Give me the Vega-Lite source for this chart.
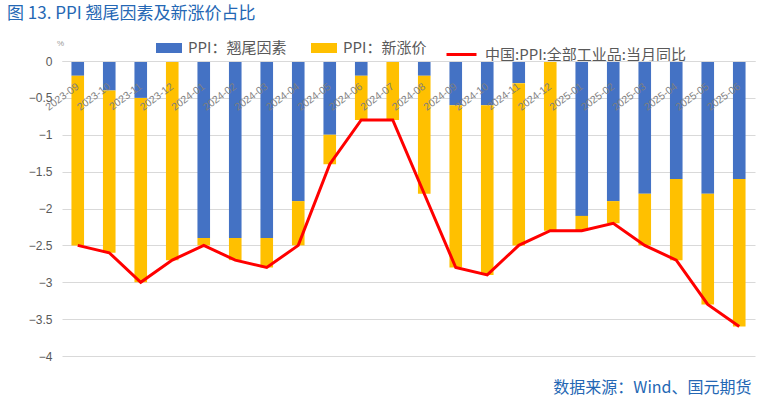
{
  "$schema": "https://vega.github.io/schema/vega-lite/v6.json",
  "width": 693,
  "height": 295,
  "autosize": {"type": "none"},
  "padding": {"left": 62, "top": 61, "right": 8, "bottom": 41},
  "background": "white",
  "config": {"view": {"stroke": null}},
  "title": {
    "text": "图 13. PPI 翘尾因素及新涨价占比",
    "anchor": "start",
    "frame": "group",
    "dx": -55,
    "dy": -11,
    "fontSize": 17,
    "font": "Noto Sans CJK SC",
    "fontWeight": "normal",
    "color": "#2467B4"
  },
  "datasets": {
    "bars": [
      {"month": "2023-09", "series": "PPI：翘尾因素", "value": -0.2},
      {"month": "2023-09", "series": "PPI：新涨价", "value": -2.3},
      {"month": "2023-10", "series": "PPI：翘尾因素", "value": -0.4},
      {"month": "2023-10", "series": "PPI：新涨价", "value": -2.2},
      {"month": "2023-11", "series": "PPI：翘尾因素", "value": -0.5},
      {"month": "2023-11", "series": "PPI：新涨价", "value": -2.5},
      {"month": "2023-12", "series": "PPI：翘尾因素", "value": 0},
      {"month": "2023-12", "series": "PPI：新涨价", "value": -2.7},
      {"month": "2024-01", "series": "PPI：翘尾因素", "value": -2.4},
      {"month": "2024-01", "series": "PPI：新涨价", "value": -0.1},
      {"month": "2024-02", "series": "PPI：翘尾因素", "value": -2.4},
      {"month": "2024-02", "series": "PPI：新涨价", "value": -0.3},
      {"month": "2024-03", "series": "PPI：翘尾因素", "value": -2.4},
      {"month": "2024-03", "series": "PPI：新涨价", "value": -0.4},
      {"month": "2024-04", "series": "PPI：翘尾因素", "value": -1.9},
      {"month": "2024-04", "series": "PPI：新涨价", "value": -0.6},
      {"month": "2024-05", "series": "PPI：翘尾因素", "value": -1.0},
      {"month": "2024-05", "series": "PPI：新涨价", "value": -0.4},
      {"month": "2024-06", "series": "PPI：翘尾因素", "value": -0.2},
      {"month": "2024-06", "series": "PPI：新涨价", "value": -0.6},
      {"month": "2024-07", "series": "PPI：翘尾因素", "value": 0},
      {"month": "2024-07", "series": "PPI：新涨价", "value": -0.8},
      {"month": "2024-08", "series": "PPI：翘尾因素", "value": -0.2},
      {"month": "2024-08", "series": "PPI：新涨价", "value": -1.6},
      {"month": "2024-09", "series": "PPI：翘尾因素", "value": -0.6},
      {"month": "2024-09", "series": "PPI：新涨价", "value": -2.2},
      {"month": "2024-10", "series": "PPI：翘尾因素", "value": -0.6},
      {"month": "2024-10", "series": "PPI：新涨价", "value": -2.3},
      {"month": "2024-11", "series": "PPI：翘尾因素", "value": -0.3},
      {"month": "2024-11", "series": "PPI：新涨价", "value": -2.2},
      {"month": "2024-12", "series": "PPI：翘尾因素", "value": 0},
      {"month": "2024-12", "series": "PPI：新涨价", "value": -2.3},
      {"month": "2025-01", "series": "PPI：翘尾因素", "value": -2.1},
      {"month": "2025-01", "series": "PPI：新涨价", "value": -0.2},
      {"month": "2025-02", "series": "PPI：翘尾因素", "value": -1.9},
      {"month": "2025-02", "series": "PPI：新涨价", "value": -0.3},
      {"month": "2025-03", "series": "PPI：翘尾因素", "value": -1.8},
      {"month": "2025-03", "series": "PPI：新涨价", "value": -0.7},
      {"month": "2025-04", "series": "PPI：翘尾因素", "value": -1.6},
      {"month": "2025-04", "series": "PPI：新涨价", "value": -1.1},
      {"month": "2025-05", "series": "PPI：翘尾因素", "value": -1.8},
      {"month": "2025-05", "series": "PPI：新涨价", "value": -1.5},
      {"month": "2025-06", "series": "PPI：翘尾因素", "value": -1.6},
      {"month": "2025-06", "series": "PPI：新涨价", "value": -2.0}
    ],
    "line": [
      {"month": "2023-09", "ppi": -2.5},
      {"month": "2023-10", "ppi": -2.6},
      {"month": "2023-11", "ppi": -3.0},
      {"month": "2023-12", "ppi": -2.7},
      {"month": "2024-01", "ppi": -2.5},
      {"month": "2024-02", "ppi": -2.7},
      {"month": "2024-03", "ppi": -2.8},
      {"month": "2024-04", "ppi": -2.5},
      {"month": "2024-05", "ppi": -1.4},
      {"month": "2024-06", "ppi": -0.8},
      {"month": "2024-07", "ppi": -0.8},
      {"month": "2024-08", "ppi": -1.8},
      {"month": "2024-09", "ppi": -2.8},
      {"month": "2024-10", "ppi": -2.9},
      {"month": "2024-11", "ppi": -2.5},
      {"month": "2024-12", "ppi": -2.3},
      {"month": "2025-01", "ppi": -2.3},
      {"month": "2025-02", "ppi": -2.2},
      {"month": "2025-03", "ppi": -2.5},
      {"month": "2025-04", "ppi": -2.7},
      {"month": "2025-05", "ppi": -3.3},
      {"month": "2025-06", "ppi": -3.6}
    ]
  },
  "layer": [
    {
      "data": {"name": "bars"},
      "mark": {"type": "bar"},
      "encoding": {
        "x": {
          "field": "month",
          "type": "ordinal",
          "sort": null,
          "scale": {"paddingInner": 0.6, "paddingOuter": 0.3},
          "axis": {
            "orient": "bottom",
            "offset": -295,
            "zindex": 2,
            "title": null,
            "labelAngle": -37,
            "labelAlign": "right",
            "labelBaseline": "middle",
            "labelPadding": 24,
            "labelColor": "#7f7f7f",
            "labelFontSize": 10.5,
            "labelFont": "Liberation Sans",
            "labelOverlap": false,
            "labelLimit": 200,
            "ticks": false,
            "domainColor": "#d9d9d9",
            "grid": false
          }
        },
        "y": {
          "field": "value",
          "type": "quantitative",
          "stack": "zero",
          "scale": {"domain": [-4, 0], "nice": false},
          "axis": {
            "values": [0, -0.5, -1, -1.5, -2, -2.5, -3, -3.5, -4],
            "format": "~g",
            "grid": true,
            "gridColor": "#d9d9d9",
            "domain": false,
            "ticks": false,
            "labelOverlap": false,
            "labelColor": "#595959",
            "labelFontSize": 12,
            "labelFont": "Liberation Sans",
            "labelPadding": 10,
            "title": "%",
            "titleAngle": 0,
            "titleX": -2,
            "titleY": -14,
            "titleFontSize": 8,
            "titleColor": "#999999",
            "titleFontWeight": "normal"
          }
        },
        "color": {
          "field": "series",
          "type": "nominal",
          "scale": {"domain": ["PPI：翘尾因素", "PPI：新涨价"], "range": ["#4472C4", "#FFC000"]},
          "legend": {
            "orient": "none",
            "legendX": 97,
            "legendY": -23,
            "direction": "horizontal",
            "title": null,
            "symbolType": "M-1.3,-0.5H1.3V0.5H-1.3Z",
            "symbolSize": 400,
            "symbolStrokeWidth": 0,
            "labelFont": "Noto Sans CJK SC",
            "labelFontSize": 15,
            "labelColor": "#595959",
            "labelLimit": 300,
            "columnPadding": 24,
            "labelOffset": 9
          }
        },
        "order": {"field": "series", "sort": "descending"}
      }
    },
    {
      "data": {"name": "line"},
      "mark": {"type": "line", "strokeWidth": 3},
      "encoding": {
        "x": {
          "field": "month",
          "type": "ordinal",
          "sort": null,
          "axis": {
            "orient": "bottom",
            "labels": false,
            "ticks": false,
            "domain": false,
            "grid": false,
            "title": "数据来源：Wind、国元期货",
            "titleAnchor": "end",
            "titleAlign": "right",
            "titleX": 689,
            "titleY": 36,
            "titleBaseline": "alphabetic",
            "titleColor": "#2467B4",
            "titleFontSize": 16,
            "titleFont": "Noto Sans CJK SC",
            "titleFontWeight": "normal"
          }
        },
        "y": {
          "field": "ppi",
          "type": "quantitative",
          "axis": {
            "values": [0, -0.5, -1, -1.5, -2, -2.5, -3, -3.5, -4],
            "format": "~g",
            "grid": true,
            "gridColor": "#d9d9d9",
            "domain": false,
            "ticks": false,
            "labelOverlap": false,
            "labelColor": "#595959",
            "labelFontSize": 12,
            "labelFont": "Liberation Sans",
            "labelPadding": 10,
            "title": "%",
            "titleAngle": 0,
            "titleX": -2,
            "titleY": -14,
            "titleFontSize": 8,
            "titleColor": "#999999",
            "titleFontWeight": "normal"
          }
        },
        "stroke": {
          "datum": "中国:PPI:全部工业品:当月同比",
          "scale": {"range": ["#FF0000"]},
          "legend": {
            "orient": "none",
            "legendX": 383,
            "legendY": -23,
            "title": null,
            "symbolType": "stroke",
            "symbolSize": 900,
            "symbolStrokeWidth": 3,
            "labelFont": "Noto Sans CJK SC",
            "labelFontSize": 15,
            "labelColor": "#595959",
            "labelLimit": 400,
            "labelOffset": 7
          }
        }
      }
    }
  ],
  "resolve": {"axis": {"x": "independent"}}
}
